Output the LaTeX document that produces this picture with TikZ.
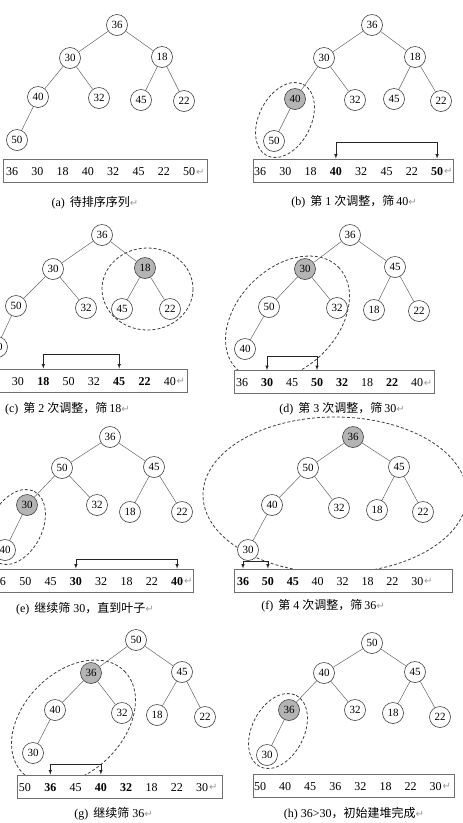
\documentclass[tikz,border=0pt]{standalone}
\usepackage{fontspec}
\setmainfont{Liberation Serif}
\newfontfamily\cjk{Noto Sans CJK SC}
\newfontfamily\symfont{DejaVu Sans}
\usetikzlibrary{arrows}
\usetikzlibrary{positioning}

\definecolor{circline}{HTML}{404040}
\definecolor{linkgray}{HTML}{666666}
\definecolor{boxgray}{HTML}{707070}
\definecolor{ringgray}{HTML}{404040}
\definecolor{hlgray}{HTML}{B4B4B4}
\definecolor{retgray}{HTML}{9A9A9A}

\newcommand{\retmark}{{\color{retgray}\symfont\fontsize{10}{10}\selectfont ↵}}

\tikzset{
  heapkey/.style={circle, draw=circline, line width=0.6pt, minimum size=21pt, inner sep=0pt, font=\fontsize{11}{11}\selectfont},
  link/.style={draw=linkgray, line width=0.5pt},
  heapring/.style={draw=ringgray, line width=0.8pt, dash pattern=on 3pt off 2pt},
  arraybox/.style={draw=boxgray, fill=white, line width=0.8pt, minimum height=23pt, inner sep=0pt},
  cell/.style={inner sep=0pt, font=\fontsize{12}{12}\selectfont},
  retnode/.style={inner sep=0pt, text=retgray, font=\symfont\fontsize{10}{10}\selectfont},
  swapline/.style={<->, >=latex, draw=black!85, line width=0.6pt},
  subcap/.style={inner sep=0pt, font=\fontsize{12}{13}\selectfont}
}

\begin{document}
\begin{tikzpicture}[x=1pt,y=-1pt]
\useasboundingbox (0,0) rectangle (463,823);
\clip (0,0) rectangle (463,823);

% (a)
\foreach \i/\x/\y/\val/\fc in {1/117/25/36/white,2/70/58/30/white,3/162/57/18/white,4/38/97/40/white,5/99/98/32/white,6/141/100/45/white,7/184/101/22/white,8/17/140/50/white}
  \node[heapkey, fill=\fc] (a\i) at (\x,\y) {\val};
\node[arraybox, minimum width=204pt] (abox) at (105,171) {};
\foreach \val [count=\i] in {36,30,18,40,32,45,22,50}
  \node[cell] (av\i) at ({12+25.3*(\i-1)},172) {\val};
\node[retnode, right=0.5pt of av8] (aret) {↵};
\node[subcap] (acap) at (95,203) {(a)\hspace{5pt}{\cjk 待排序序列}\retmark};

% (b)
\draw[heapring, rotate around={63:(285,120)}] (285,120) ellipse [x radius=40, y radius=26];
\foreach \i/\x/\y/\val/\fc in {1/372/25/36/white,2/324/58/30/white,3/415/57/18/white,4/295/99/40/hlgray,5/355/100/32/white,6/394/99/45/white,7/441/101/22/white,8/274/141/50/white}
  \node[heapkey, fill=\fc] (b\i) at (\x,\y) {\val};
\node[arraybox, minimum width=200pt] (bbox) at (353,170.5) {};
\foreach \val [count=\i] in {36,30,18,\textbf{40},32,45,22,\textbf{50}}
  \node[cell] (bv\i) at ({260+25.3*(\i-1)},171.5) {\val};
\node[retnode, right=0.5pt of bv8] (bret) {↵};
\draw[swapline] (bv4 |- bbox.north) -- ++(0,-16) -| (bv8 |- bbox.north);
\node[subcap] (bcap) at (354,202) {(b)\hspace{5pt}{\cjk 第}\hspace{3pt}1\hspace{3pt}{\cjk 次调整，筛}\hspace{2pt}40\retmark};

% (c)
\draw[heapring] (147.5,289) ellipse [x radius=45.5, y radius=41];
\foreach \i/\x/\y/\val/\fc in {1/102/235/36/white,2/53/269/30/white,3/145/268/18/hlgray,4/16/306/50/white,5/86/308/32/white,6/122/309/45/white,7/170/309/22/white,8/-3/347/40/white}
  \node[heapkey, fill=\fc] (c\i) at (\x,\y) {\val};
\node[arraybox, minimum width=202pt] (cbox) at (86,380.5) {};
\foreach \val [count=\i] in {36,30,\textbf{18},50,32,\textbf{45},\textbf{22},40}
  \node[cell] (cv\i) at ({-7.3+25.3*(\i-1)},381.5) {\val};
\node[retnode, right=0.5pt of cv8] (cret) {↵};
\draw[swapline] (cv3 |- cbox.north) -- ++(0,-14) -| (cv6 |- cbox.north);
\node[subcap] (ccap) at (67.5,409) {(c)\hspace{5pt}{\cjk 第}\hspace{3pt}2\hspace{3pt}{\cjk 次调整，筛}\hspace{2pt}18\retmark};

% (d)
\draw[heapring, rotate around={45:(287.5,318)}] (287.5,318) ellipse [x radius=72, y radius=50];
\foreach \i/\x/\y/\val/\fc in {1/350/235/36/white,2/305/269/30/hlgray,3/395/267/45/white,4/269/307/50/white,5/337/308/32/white,6/374/310/18/white,7/419/311/22/white,8/245/349/40/white}
  \node[heapkey, fill=\fc] (d\i) at (\x,\y) {\val};
\node[arraybox, minimum width=200pt] (dbox) at (334,382) {};
\foreach \val [count=\i] in {36,\textbf{30},45,\textbf{50},\textbf{32},18,\textbf{22},40}
  \node[cell] (dv\i) at ({242+25*(\i-1)},383) {\val};
\node[retnode, right=0.5pt of dv8] (dret) {↵};
\draw[swapline] (dv2 |- dbox.north) -- ++(0,-14) -| (dv4 |- dbox.north);
\node[subcap] (dcap) at (342,409) {(d)\hspace{5pt}{\cjk 第}\hspace{3pt}3\hspace{3pt}{\cjk 次调整，筛}\hspace{2pt}30\retmark};

% (e)
\draw[heapring, rotate around={63:(16,527)}] (16,527) ellipse [x radius=40, y radius=26];
\foreach \i/\x/\y/\val/\fc in {1/110/437/36/white,2/62/468/50/white,3/154/467/45/white,4/27/505/30/hlgray,5/97/505/32/white,6/130/512/18/white,7/182/512/22/white,8/5/550/40/white}
  \node[heapkey, fill=\fc] (e\i) at (\x,\y) {\val};
\node[arraybox, minimum width=201pt] (ebox) at (92.5,580.5) {};
\foreach \val [count=\i] in {36,50,45,\textbf{30},32,18,22,\textbf{40}}
  \node[cell] (ev\i) at ({0+25.3*(\i-1)},581.5) {\val};
\node[retnode, right=0.5pt of ev8] (eret) {↵};
\draw[swapline] (ev4 |- ebox.north) -- ++(0,-9) -| (ev8 |- ebox.north);
\node[subcap] (ecap) at (85,609) {(e)\hspace{5pt}{\cjk 继续筛}\hspace{3pt}30{\cjk ，直到叶子}\retmark};

% (f)
\draw[heapring] (335,495) ellipse [x radius=132, y radius=78];
\foreach \i/\x/\y/\val/\fc in {1/353/437/36/hlgray,2/308/468/50/white,3/399/467/45/white,4/272/505/40/white,5/339/508/32/white,6/377/510/18/white,7/423/512/22/white,8/248/550/30/white}
  \node[heapkey, fill=\fc] (f\i) at (\x,\y) {\val};
\node[arraybox, minimum width=218pt] (fbox) at (343,580.5) {};
\foreach \val [count=\i] in {\textbf{36},\textbf{50},\textbf{45},40,32,18,22,30}
  \node[cell] (fv\i) at ({243+24.9*(\i-1)},581.5) {\val};
\node[retnode, right=0.5pt of fv8] (fret) {↵};
\draw[swapline] (fv1 |- fbox.north) -- ++(0,-7) -| (fv2 |- fbox.north);
\node[subcap] (fcap) at (323,606) {(f)\hspace{5pt}{\cjk 第}\hspace{3pt}4\hspace{3pt}{\cjk 次调整，筛}\hspace{2pt}36\retmark};

% (g)
\draw[heapring, rotate around={45:(73.5,722)}] (73.5,722) ellipse [x radius=72, y radius=50];
\foreach \i/\x/\y/\val/\fc in {1/136/640/50/white,2/91/673/36/hlgray,3/182/672/45/white,4/55/710/40/white,5/122/713/32/white,6/157/715/18/white,7/205/717/22/white,8/33/753/30/white}
  \node[heapkey, fill=\fc] (g\i) at (\x,\y) {\val};
\node[arraybox, minimum width=205pt] (gbox) at (119.5,786.5) {};
\foreach \val [count=\i] in {50,\textbf{36},45,\textbf{40},\textbf{32},18,22,30}
  \node[cell] (gv\i) at ({25+25.3*(\i-1)},787.5) {\val};
\node[retnode, right=0.5pt of gv8] (gret) {↵};
\draw[swapline] (gv2 |- gbox.north) -- ++(0,-10) -| (gv4 |- gbox.north);
\node[subcap] (gcap) at (113.5,814) {(g)\hspace{5pt}{\cjk 继续筛}\hspace{3pt}36\retmark};

% (h)
\draw[heapring, rotate around={63:(278,731)}] (278,731) ellipse [x radius=40, y radius=26];
\foreach \i/\x/\y/\val/\fc in {1/372/643/50/white,2/324/673/40/white,3/415/672/45/white,4/289/710/36/hlgray,5/355/710/32/white,6/393/713/18/white,7/440/717/22/white,8/267/755/30/white}
  \node[heapkey, fill=\fc] (h\i) at (\x,\y) {\val};
\node[arraybox, minimum width=201pt] (hbox) at (353.5,785.5) {};
\foreach \val [count=\i] in {50,40,45,36,32,18,22,30}
  \node[cell] (hv\i) at ({260+25.1*(\i-1)},786.5) {\val};
\node[retnode, right=0.5pt of hv8] (hret) {↵};
\node[subcap] (hcap) at (354,814) {(h)\hspace{3pt}36>30{\cjk ，初始建堆完成}\retmark};

% tree edges
\foreach \t in {a,b,c,d,e,f,g,h}
  \foreach \p/\q in {1/2,1/3,2/4,2/5,3/6,3/7,4/8}
    \draw[link] (\t\p) -- (\t\q);

\end{tikzpicture}
\end{document}
